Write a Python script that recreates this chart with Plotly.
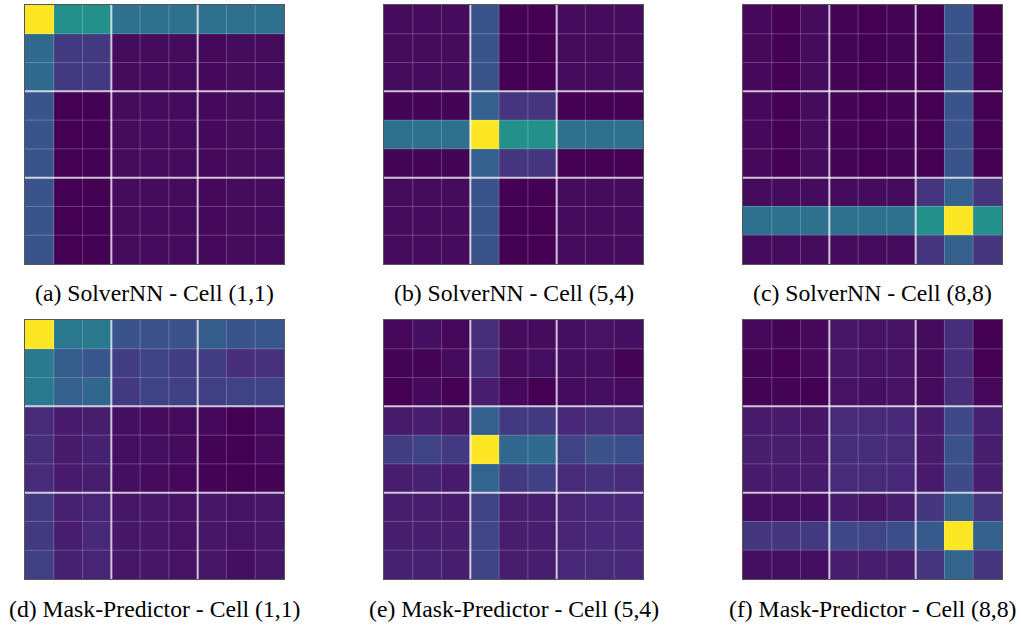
import plotly.graph_objects as go

# Attention weights (9x9 Sudoku grid) for a query cell, normalised to [0, 1]
solver_11 = [
    [1.00, 0.50, 0.50, 0.37, 0.37, 0.37, 0.37, 0.37, 0.37],
    [0.34, 0.17, 0.17, 0.03, 0.03, 0.03, 0.02, 0.03, 0.03],
    [0.34, 0.17, 0.17, 0.03, 0.03, 0.03, 0.02, 0.03, 0.03],
    [0.26, 0.00, 0.00, 0.03, 0.03, 0.03, 0.02, 0.03, 0.03],
    [0.26, 0.00, 0.00, 0.03, 0.03, 0.03, 0.02, 0.03, 0.03],
    [0.26, 0.00, 0.00, 0.03, 0.03, 0.03, 0.02, 0.03, 0.03],
    [0.26, 0.00, 0.00, 0.03, 0.03, 0.03, 0.02, 0.03, 0.03],
    [0.26, 0.00, 0.00, 0.03, 0.03, 0.03, 0.02, 0.03, 0.03],
    [0.26, 0.00, 0.00, 0.03, 0.03, 0.03, 0.02, 0.03, 0.03],
]
solver_54 = [
    [0.03, 0.03, 0.03, 0.26, 0.00, 0.00, 0.03, 0.03, 0.03],
    [0.03, 0.03, 0.03, 0.26, 0.00, 0.00, 0.03, 0.03, 0.03],
    [0.03, 0.03, 0.03, 0.26, 0.00, 0.00, 0.03, 0.03, 0.03],
    [0.01, 0.01, 0.01, 0.31, 0.15, 0.15, 0.00, 0.00, 0.00],
    [0.37, 0.37, 0.37, 1.00, 0.50, 0.50, 0.37, 0.37, 0.37],
    [0.01, 0.01, 0.01, 0.31, 0.15, 0.15, 0.00, 0.00, 0.00],
    [0.03, 0.03, 0.03, 0.26, 0.00, 0.00, 0.03, 0.03, 0.03],
    [0.03, 0.03, 0.03, 0.26, 0.00, 0.00, 0.03, 0.03, 0.03],
    [0.03, 0.03, 0.03, 0.26, 0.00, 0.00, 0.03, 0.03, 0.03],
]
solver_88 = [
    [0.02, 0.00, 0.03, 0.01, 0.00, 0.01, 0.00, 0.26, 0.00],
    [0.02, 0.00, 0.03, 0.01, 0.00, 0.01, 0.00, 0.26, 0.00],
    [0.02, 0.00, 0.03, 0.01, 0.00, 0.01, 0.00, 0.26, 0.00],
    [0.02, 0.00, 0.03, 0.01, 0.00, 0.01, 0.00, 0.26, 0.00],
    [0.02, 0.00, 0.03, 0.01, 0.00, 0.01, 0.00, 0.26, 0.00],
    [0.02, 0.00, 0.03, 0.01, 0.00, 0.01, 0.00, 0.26, 0.00],
    [0.03, 0.03, 0.03, 0.03, 0.03, 0.03, 0.15, 0.31, 0.15],
    [0.37, 0.37, 0.37, 0.37, 0.37, 0.37, 0.50, 1.00, 0.50],
    [0.03, 0.03, 0.03, 0.03, 0.03, 0.03, 0.15, 0.31, 0.15],
]
mask_11 = [
    [1.00, 0.40, 0.40, 0.26, 0.25, 0.25, 0.29, 0.26, 0.27],
    [0.41, 0.29, 0.27, 0.18, 0.20, 0.18, 0.18, 0.13, 0.14],
    [0.41, 0.30, 0.33, 0.17, 0.20, 0.19, 0.19, 0.20, 0.20],
    [0.12, 0.07, 0.08, 0.04, 0.03, 0.03, 0.02, 0.00, 0.02],
    [0.13, 0.07, 0.09, 0.04, 0.04, 0.03, 0.01, 0.00, 0.02],
    [0.12, 0.07, 0.08, 0.04, 0.03, 0.02, 0.01, 0.00, 0.01],
    [0.17, 0.09, 0.10, 0.06, 0.06, 0.05, 0.06, 0.05, 0.06],
    [0.17, 0.08, 0.11, 0.06, 0.06, 0.05, 0.06, 0.05, 0.06],
    [0.19, 0.09, 0.10, 0.06, 0.06, 0.05, 0.06, 0.04, 0.06],
]
mask_54 = [
    [0.02, 0.04, 0.02, 0.13, 0.03, 0.03, 0.04, 0.05, 0.04],
    [0.01, 0.01, 0.03, 0.13, 0.03, 0.04, 0.04, 0.04, 0.01],
    [0.00, 0.02, 0.00, 0.08, 0.02, 0.00, 0.03, 0.04, 0.03],
    [0.07, 0.08, 0.06, 0.30, 0.17, 0.17, 0.11, 0.13, 0.12],
    [0.18, 0.20, 0.17, 1.00, 0.33, 0.34, 0.20, 0.25, 0.24],
    [0.08, 0.09, 0.07, 0.32, 0.17, 0.19, 0.12, 0.14, 0.12],
    [0.08, 0.08, 0.07, 0.20, 0.08, 0.08, 0.10, 0.11, 0.11],
    [0.08, 0.08, 0.08, 0.21, 0.08, 0.08, 0.10, 0.11, 0.11],
    [0.09, 0.09, 0.08, 0.20, 0.08, 0.08, 0.11, 0.12, 0.11],
]
mask_88 = [
    [0.02, 0.01, 0.02, 0.06, 0.05, 0.05, 0.03, 0.13, 0.00],
    [0.01, 0.00, 0.02, 0.06, 0.05, 0.05, 0.03, 0.13, 0.00],
    [0.01, 0.01, 0.00, 0.05, 0.04, 0.05, 0.03, 0.13, 0.02],
    [0.07, 0.07, 0.06, 0.12, 0.12, 0.11, 0.07, 0.22, 0.09],
    [0.08, 0.08, 0.07, 0.13, 0.13, 0.12, 0.07, 0.25, 0.08],
    [0.07, 0.07, 0.07, 0.12, 0.12, 0.11, 0.07, 0.23, 0.08],
    [0.04, 0.04, 0.04, 0.07, 0.06, 0.08, 0.16, 0.30, 0.15],
    [0.16, 0.16, 0.17, 0.22, 0.21, 0.24, 0.28, 1.00, 0.31],
    [0.04, 0.04, 0.04, 0.08, 0.08, 0.08, 0.15, 0.32, 0.15],
]

panels = [solver_11, solver_54, solver_88, mask_11, mask_54, mask_88]
captions = [
    "(a) SolverNN - Cell (1,1)",
    "(b) SolverNN - Cell (5,4)",
    "(c) SolverNN - Cell (8,8)",
    "(d) Mask-Predictor - Cell (1,1)",
    "(e) Mask-Predictor - Cell (5,4)",
    "(f) Mask-Predictor - Cell (8,8)",
]

W, H = 1021, 629
col_px = [(25, 284), (384, 643), (743, 1002)]   # left/right edges in pixels
row_px = [(5, 264), (320, 579)]                  # top/bottom edges in pixels
caption_y = [293, 609]

fig = go.Figure()
shapes = []
annotations = []
for i, z in enumerate(panels):
    r, c = divmod(i, 3)
    n = i + 1
    xa = "x" if n == 1 else f"x{n}"
    ya = "y" if n == 1 else f"y{n}"
    fig.add_trace(go.Heatmap(
        z=z, colorscale="Viridis", zmin=0, zmax=1, showscale=False,
        xaxis=xa, yaxis=ya, hoverinfo="skip",
    ))
    x0, x1 = col_px[c]
    t0, t1 = row_px[r]
    ax_kw = dict(showgrid=False, zeroline=False, showticklabels=False, ticks="",
                 showline=True, linecolor="#555555", linewidth=1, mirror=True)
    fig.layout[f"xaxis{'' if n == 1 else n}"] = dict(
        domain=[x0 / W, x1 / W], range=[-0.5, 8.5], anchor=ya, **ax_kw)
    fig.layout[f"yaxis{'' if n == 1 else n}"] = dict(
        domain=[1 - t1 / H, 1 - t0 / H], range=[8.5, -0.5], anchor=xa, **ax_kw)
    # cell grid: thin lines between cells, heavier lines between 3x3 boxes
    for k in range(1, 9):
        box = k % 3 == 0
        style = dict(color="rgba(255,255,255,0.75)" if box else "rgba(255,255,255,0.22)",
                     width=2 if box else 1)
        p = k - 0.5
        shapes.append(dict(type="line", xref=xa, yref=ya, x0=p, x1=p, y0=-0.5, y1=8.5, line=style))
        shapes.append(dict(type="line", xref=xa, yref=ya, x0=-0.5, x1=8.5, y0=p, y1=p, line=style))
    annotations.append(dict(
        text=captions[i], xref="paper", yref="paper",
        x=(x0 + x1) / 2 / W, y=1 - caption_y[r] / H,
        xanchor="center", yanchor="middle", showarrow=False,
        font=dict(family="Liberation Serif", size=23.7, color="#000000"),
    ))

fig.update_layout(
    width=W, height=H, margin=dict(l=0, r=0, t=0, b=0),
    paper_bgcolor="white", plot_bgcolor="white",
    shapes=shapes, annotations=annotations, showlegend=False,
)
fig.write_html("out.html", config={"displayModeBar": False})
